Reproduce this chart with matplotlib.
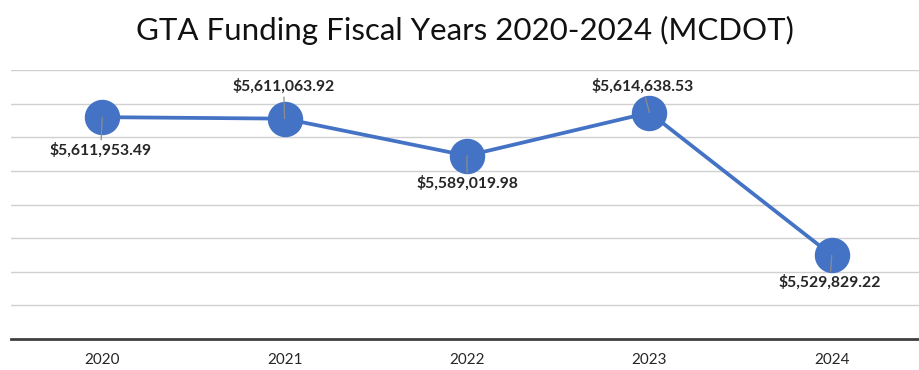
import matplotlib
matplotlib.use("Agg")
import matplotlib.pyplot as plt
from matplotlib.ticker import MultipleLocator, NullFormatter

# Fiscal year funding amounts
years = ["2020", "2021", "2022", "2023", "2024"]
funding = [5611953.49, 5611063.92, 5589019.98, 5614638.53, 5529829.22]

# Data label offsets from each point, in pixels (dx right, dy down)
label_offsets_px = [(-1.5, 33), (-1, -32), (0, 27.5), (-7, -26.5), (-2, 26.5)]

plt.rcParams["font.family"] = ["Lato", "DejaVu Sans"]

DPI = 100
PX = 72 / DPI  # points per pixel

fig = plt.figure(figsize=(9.2, 3.7), dpi=DPI)
ax = fig.add_axes([11 / 920, 1 - 339 / 370, 912 / 920, (339 - 70) / 370])

x = list(range(len(years)))
line_color = "#4472C4"
ax.plot(x, funding, color=line_color, lw=2.7, marker="o", markersize=24.5,
        markerfacecolor=line_color, markeredgecolor=line_color, zorder=3,
        solid_capstyle="round")

for xi, val, (dx, dy) in zip(x, funding, label_offsets_px):
    ax.annotate(f"${val:,.2f}", xy=(xi, val), xytext=(dx * PX, -dy * PX),
                textcoords="offset points", ha="center", va="center",
                fontsize=11.3, fontweight="bold", color="#262626", zorder=5,
                arrowprops=dict(arrowstyle="-", color="#8C8C8C", lw=0.9,
                                shrinkA=0, shrinkB=0))

ax.set_xlim(-0.5, len(years) - 0.5)
ax.set_ylim(5480000, 5640000)
ax.yaxis.set_major_locator(MultipleLocator(20000))
ax.yaxis.set_major_formatter(NullFormatter())
ax.tick_params(axis="y", length=0)
ax.grid(axis="y", color="#D0D0D0", lw=1.0)
ax.set_axisbelow(True)

ax.set_xticks(x)
ax.set_xticklabels(years, fontsize=11, color="#262626")
ax.tick_params(axis="x", length=0, pad=10)

for s in ["left", "right", "top"]:
    ax.spines[s].set_visible(False)
ax.spines["bottom"].set_color("#404040")
ax.spines["bottom"].set_linewidth(2.0)

fig.text(0.505, 1 - 30 / 370, "GTA Funding Fiscal Years 2020-2024 (MCDOT)",
         ha="center", va="center", fontsize=22.5, color="#111111")

fig.savefig("out.png", dpi=DPI, facecolor="white")
